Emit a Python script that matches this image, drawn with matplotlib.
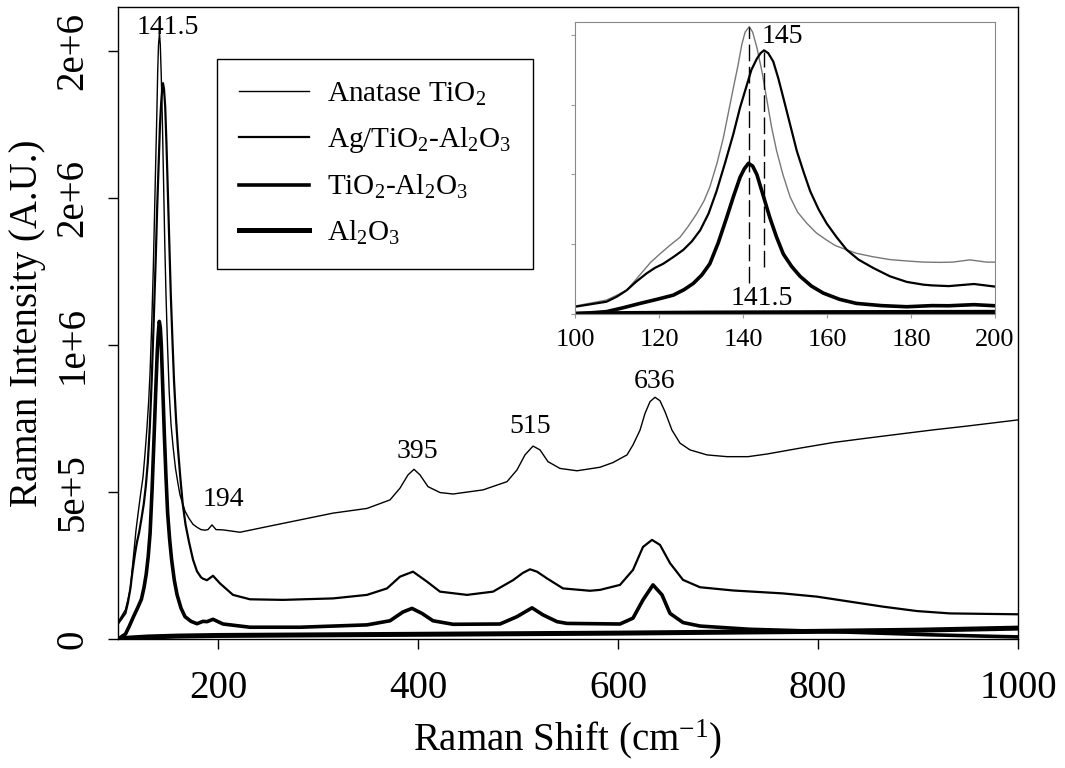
import numpy as np
import matplotlib
matplotlib.use('Agg')
import matplotlib.pyplot as plt

plt.rcParams['font.family'] = ['Liberation Serif', 'DejaVu Serif']
plt.rcParams['mathtext.fontset'] = 'custom'
plt.rcParams['mathtext.rm'] = 'Liberation Serif'
plt.rcParams['mathtext.it'] = 'Liberation Serif'

# values (x in cm-1, y in units of 1e5)
anatase_x = [100, 107.5, 110, 112.3, 114.3, 116.3, 118, 120.2, 122.5, 125, 127, 129, 130.7,
             132.1, 133.8, 135.3, 136.5, 137.7, 138.8, 139.7, 140.5, 141.5, 142.3, 143.3,
             144.5, 145.6, 146.8, 148, 149.5, 151.2, 153, 155.2, 157.5, 159.9, 162, 164.7,
             167, 171, 175, 179, 183, 187, 190, 194, 198,
             205, 222, 249, 282, 315, 349, 372, 382, 390, 396, 402, 410, 422, 435, 465, 489,
             499, 507, 515, 522, 530, 542, 559, 582, 595, 609, 615, 622, 627, 632, 637, 642,
             647, 654, 662, 672, 689, 709, 730, 749, 782, 815, 849, 882, 915, 949, 1000]
anatase_y = [0.57, 1.0, 1.35, 1.7, 2.4, 3.1, 3.7, 4.3, 4.9, 5.5, 6.3, 7.2, 8.1,
             9.1, 10.8, 12.6, 14.4, 16.2, 17.8, 19.3, 20.2, 20.6, 20.2, 19.1,
             17.4, 15.5, 13.4, 11.7, 10.0, 8.4, 7.3, 6.5, 5.8, 5.3, 4.9, 4.6,
             4.35, 4.1, 3.9, 3.8, 3.72, 3.7, 3.72, 3.88, 3.72,
             3.71, 3.63, 3.82, 4.05, 4.28, 4.44, 4.73, 5.13, 5.58, 5.77, 5.58, 5.18, 4.98, 4.93, 5.07, 5.35,
             5.75, 6.26, 6.56, 6.43, 6.03, 5.8, 5.72, 5.84, 6.0, 6.26, 6.6, 7.1, 7.67, 8.07, 8.22, 8.1,
             7.73, 7.1, 6.66, 6.43, 6.26, 6.2, 6.2, 6.29, 6.49, 6.68, 6.83, 6.97, 7.11, 7.24, 7.45]

ag_x = [100, 107.5, 110, 112.3, 114.5, 117, 119, 121, 123.5, 125.8, 127.8, 129.8, 131.8,
        133.7, 135.7, 137.7, 139.3, 140.9, 142, 143.3, 144.2, 145, 146, 147.2, 148.4,
        149.6, 151.2, 152.8, 154.4, 156, 158, 159.9, 162.3, 164.7, 167.5, 171, 175, 179,
        183, 185, 189, 195, 202, 215, 232, 265, 315, 349, 369, 382, 395, 409, 422, 449,
        475, 495, 505, 512, 519, 529, 545, 572, 582, 602, 615, 625, 634, 642, 652, 665,
        682, 715, 765, 799, 832, 865, 899, 932, 1000]
ag_y = [0.52, 0.88, 1.25, 1.7, 2.3, 2.9, 3.3, 3.6, 4.1, 4.6, 5.2, 6.0, 7.2,
        8.8, 10.8, 12.9, 14.8, 16.4, 17.5, 18.3, 18.7, 18.9, 18.7, 18.1, 16.9,
        15.5, 13.6, 11.7, 10.2, 8.8, 7.5, 6.5, 5.5, 4.6, 3.9, 3.3, 2.7, 2.3,
        2.1, 2.05, 2.0, 2.15, 1.89, 1.5, 1.35, 1.33, 1.38, 1.5, 1.72, 2.12, 2.29, 1.95, 1.61, 1.5,
        1.61, 2.0, 2.25, 2.37, 2.29, 2.06, 1.72, 1.64, 1.67, 1.84, 2.35, 3.13, 3.37, 3.2, 2.58, 2.01,
        1.76, 1.65, 1.55, 1.44, 1.27, 1.1, 0.95, 0.87, 0.84]

tial_x = [100, 107.5, 111.5, 115.5, 119.5, 123.4, 126, 128.2, 130.2, 132.1, 134.1, 136.1,
          137.7, 139.3, 140.3, 141.3, 142.3, 143.3, 144.8, 146.4, 148, 149.6, 151.6, 153.6,
          156.3, 159.1, 163, 167, 173, 179, 185, 189, 195, 205, 232, 282, 349, 372, 385,
          394, 404, 415, 435, 482, 499, 514, 525, 539, 549, 602, 615, 625, 635, 644, 652,
          665, 682, 732, 815, 915, 1000]
tial_y = [0, 0.17, 0.45, 0.76, 1.05, 1.35, 1.75, 2.2, 2.8, 3.6, 5.1, 6.9,
          8.4, 9.8, 10.4, 10.8, 10.6, 10.0, 8.5, 6.9, 5.5, 4.3, 3.4, 2.7,
          2.0, 1.5, 1.05, 0.76, 0.6, 0.52, 0.6, 0.59, 0.67, 0.51, 0.40, 0.40, 0.48, 0.62, 0.92,
          1.04, 0.87, 0.62, 0.50, 0.51, 0.76, 1.06, 0.82, 0.59, 0.53, 0.51, 0.71, 1.33, 1.84, 1.5, 0.87,
          0.56, 0.44, 0.33, 0.25, 0.14, 0.07]

al_x = [100, 110, 130, 160, 200, 300, 400, 500, 600, 700, 800, 900, 1000]
al_y = [0, 0.03, 0.07, 0.1, 0.12, 0.14, 0.16, 0.18, 0.2, 0.23, 0.26, 0.3, 0.37]

names = ['Anatase TiO$_2$', 'Ag/TiO$_2$-Al$_2$O$_3$', 'TiO$_2$-Al$_2$O$_3$', 'Al$_2$O$_3$']
widths = [1.0, 1.6, 2.6, 3.6]

peak_pos = [150, 205, 399, 512, 637]
peak_h = [20.8, 4.76, 6.36, 7.21, 8.74]
peak_txt = ['141.5', '194', '395', '515', '636']

series = [(anatase_x, anatase_y), (ag_x, ag_y), (tial_x, tial_y), (al_x, al_y)]

fig = plt.figure(figsize=(10.65, 7.68), dpi=100)
ax = fig.add_axes([118/1065, 1-639/768, 900/1065, 632/768])

for (xs, ys), name, lw in zip(series, names, widths):
    ax.plot(xs, np.array(ys)*1e5, color='black', lw=lw, label=name)

for px, ph, t in zip(peak_pos, peak_h, peak_txt):
    ax.text(px, ph*1e5, t, ha='center', va='center', fontsize=20)

ax.set_xlim(100, 1000)
ax.set_ylim(0, 2.149e6)
ax.set_xticks([200, 400, 600, 800, 1000])
ax.set_yticks([0, 5e5, 1e6, 1.5e6, 2e6], ['0', '5e+5', '1e+6', '2e+6', '2e+6'],
              rotation=90, va='center')
ax.tick_params(direction='out', length=7, width=1, labelsize=28)
ax.tick_params(axis='x', pad=15)
ax.tick_params(axis='y', pad=12)
ax.set_xlabel('Raman Shift (cm$^{-1}$)', fontsize=28, labelpad=8)
ax.set_ylabel('Raman Intensity (A.U.)', fontsize=28, labelpad=6)
for s in ax.spines.values():
    s.set_linewidth(1)

leg = ax.legend(loc='upper left', bbox_to_anchor=(0.11, 0.918), fontsize=21,
                frameon=True, fancybox=False, edgecolor='black', framealpha=1,
                handlelength=2.4, handletextpad=0.62, labelspacing=0.6,
                borderpad=0.75, borderaxespad=0)
leg.get_frame().set_linewidth(1)

# inset zoom on the 141.5 band
ins = fig.add_axes([575/1065, 1-314/768, 420/1065, 292/768])
ins_colors = ['#777777', 'black', 'black', 'black']
for (xs, ys), lw, c in zip(series, widths, ins_colors):
    ins.plot(xs, np.array(ys)*1e5, color=c, lw=lw)
ins.plot([141.5, 141.5], [2.2e5, 2.06e6], color='black', lw=1, ls=(0, (12, 4)))
ins.plot([145, 145], [3.4e5, 1.88e6], color='black', lw=1, ls=(0, (12, 4)))
ins.text(149.3, 1.99e6, '145', ha='center', va='center', fontsize=20)
ins.text(144.5, 1.08e5, '141.5', ha='center', va='center', fontsize=20)
ins.set_xlim(100, 200)
ins.set_ylim(0, 2.093e6)
ins.set_xticks([100, 120, 140, 160, 180, 200])
ins.set_yticks([0, 5e5, 1e6, 1.5e6, 2e6], [])
ins.tick_params(direction='out', length=3, color='#999999', labelsize=19, pad=8)
for s in ins.spines.values():
    s.set_color('#888888')
    s.set_linewidth(0.8)

fig.savefig('out.png', dpi=100)
